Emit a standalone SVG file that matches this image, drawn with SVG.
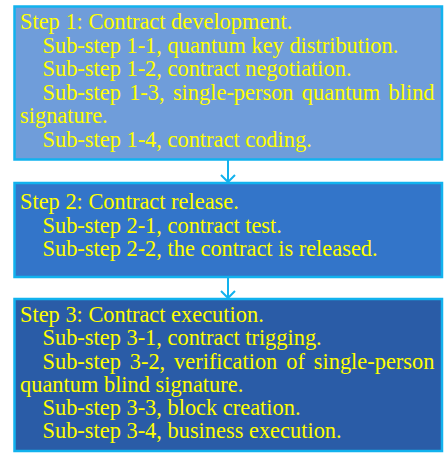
<svg xmlns="http://www.w3.org/2000/svg" width="445" height="453" viewBox="0 0 445 453">
<style>
.box{stroke:#12B2EE;stroke-width:2.5}
.t{font-family:'Liberation Serif','Times New Roman',Times,serif;font-size:22.4px;fill:#FFFF00}
.c{stroke:#12B2EE;stroke-width:2;fill:none}
</style>
<rect width="445" height="453" fill="#ffffff"/>
<g id="connectors">
<line class="c" x1="228" y1="160" x2="228" y2="182"/>
<polyline class="c" points="221,175 228,182 235,175"/>
<line class="c" x1="228" y1="277" x2="228" y2="298"/>
<polyline class="c" points="221,291 228,298 235,291"/>
</g>
<g id="step1">
<rect class="box" x="14.5" y="6.5" width="427.5" height="153" fill="#6F9DDA"/>
<text class="t">
<tspan x="20" y="29">Step 1: Contract development.</tspan>
<tspan x="42.5" y="52.5">Sub-step 1-1, quantum key distribution.</tspan>
<tspan x="42.5" y="76">Sub-step 1-2, contract negotiation.</tspan>
<tspan x="42.5" y="99.5" word-spacing="2.7">Sub-step 1-3, single-person quantum blind</tspan>
<tspan x="20" y="123">signature.</tspan>
<tspan x="42.5" y="146.5">Sub-step 1-4, contract coding.</tspan>
</text>
</g>
<g id="step2">
<rect class="box" x="14.5" y="183" width="427.5" height="94" fill="#3375C9"/>
<text class="t">
<tspan x="20" y="209">Step 2: Contract release.</tspan>
<tspan x="42.5" y="232.5">Sub-step 2-1, contract test.</tspan>
<tspan x="42.5" y="256">Sub-step 2-2, the contract is released.</tspan>
</text>
</g>
<g id="step3">
<rect class="box" x="14.5" y="299" width="427.5" height="152" fill="#2A5CA7"/>
<text class="t">
<tspan x="20" y="322">Step 3: Contract execution.</tspan>
<tspan x="42.5" y="345">Sub-step 3-1, contract trigging.</tspan>
<tspan x="42.5" y="368.5" word-spacing="3.3">Sub-step 3-2, verification of single-person</tspan>
<tspan x="20" y="391.5">quantum blind signature.</tspan>
<tspan x="42.5" y="415">Sub-step 3-3, block creation.</tspan>
<tspan x="42.5" y="438">Sub-step 3-4, business execution.</tspan>
</text>
</g>
</svg>
